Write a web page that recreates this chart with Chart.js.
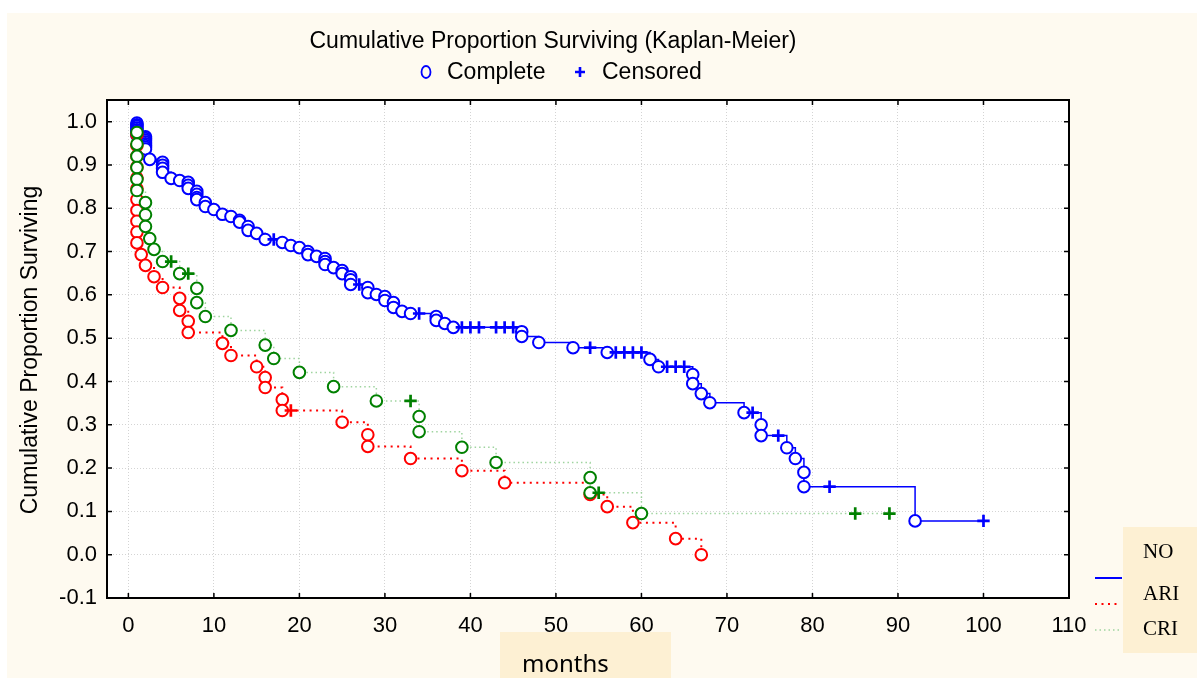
<!DOCTYPE html>
<html>
<head>
<meta charset="utf-8">
<title>Cumulative Proportion Surviving (Kaplan-Meier)</title>
<script src="https://cdn.jsdelivr.net/npm/chart.js@4.4.1/dist/chart.umd.min.js"></script>
<style>
  html, body { margin: 0; padding: 0; background: #ffffff; }
  canvas { display: block; }
</style>
</head>
<body>
<canvas id="kmChart" width="1197" height="678"></canvas>
<script>
// ---- Data (months, survival proportion) ----
const groupNames = ['NO', 'ARI', 'CRI'];

const noEventT = [1, 1, 1, 1, 1, 1, 1, 1, 2, 2, 2, 2, 2, 2, 2, 2, 2.5, 4, 4, 4, 4, 5, 6, 7, 7, 7,
  8, 8, 8, 8, 9, 9, 10, 11, 12, 13, 13, 14, 14, 15, 16, 18, 19, 20, 21, 21, 22, 23, 23, 23, 24,
  25, 25, 26, 26, 26, 28, 28, 29, 30, 30, 31, 31, 32, 33, 36, 36, 37, 38, 46, 46, 48, 52, 56,
  61, 62, 66, 66, 67, 68, 72, 74, 74, 77, 78, 79, 79, 92];
const noEventS = [0.997, 0.993, 0.989, 0.985, 0.981, 0.977, 0.973, 0.969, 0.965, 0.961, 0.957,
  0.953, 0.949, 0.945, 0.941, 0.937, 0.913, 0.906, 0.899, 0.892, 0.883, 0.869, 0.864, 0.860,
  0.853, 0.846, 0.839, 0.832, 0.825, 0.820, 0.813, 0.804, 0.797, 0.786, 0.781, 0.772, 0.768,
  0.758, 0.749, 0.742, 0.728, 0.721, 0.714, 0.709, 0.700, 0.693, 0.689, 0.684, 0.677, 0.670,
  0.663, 0.656, 0.649, 0.642, 0.635, 0.624, 0.617, 0.605, 0.601, 0.596, 0.587, 0.582, 0.571,
  0.562, 0.557, 0.550, 0.541, 0.534, 0.525, 0.515, 0.504, 0.490, 0.478, 0.467, 0.451, 0.434,
  0.416, 0.395, 0.372, 0.351, 0.328, 0.300, 0.275, 0.247, 0.222, 0.190, 0.157, 0.078];
const noCensT = [17, 27, 34, 39, 40, 41, 43, 44, 45, 54, 57, 58, 59, 60, 63, 64, 65, 73, 76, 82, 100];
const noCensS = [0.728, 0.624, 0.557, 0.525, 0.525, 0.525, 0.525, 0.525, 0.525, 0.478, 0.467,
  0.467, 0.467, 0.467, 0.434, 0.434, 0.434, 0.328, 0.275, 0.157, 0.078];

const ariEventT = [1, 1, 1, 1, 1, 1, 1, 1, 1, 1, 1, 1.5, 2, 3, 4, 6, 6, 7, 7, 11, 12, 15, 16, 16,
  18, 18, 25, 28, 28, 33, 39, 44, 54, 56, 59, 64, 67];
const ariEventS = [0.970, 0.945, 0.920, 0.895, 0.870, 0.845, 0.820, 0.795, 0.770, 0.745, 0.720,
  0.693, 0.668, 0.642, 0.617, 0.592, 0.564, 0.539, 0.513, 0.488, 0.460, 0.434, 0.409, 0.386,
  0.358, 0.333, 0.306, 0.277, 0.250, 0.222, 0.194, 0.166, 0.139, 0.111, 0.074, 0.037, 0.000];
const ariCensT = [19];
const ariCensS = [0.333];

const criEventT = [1, 1, 1, 1, 1, 1, 2, 2, 2, 2.5, 3, 4, 6, 8, 8, 9, 12, 16, 17, 20, 24, 29, 34,
  34, 39, 43, 54, 54, 60];
const criEventS = [0.975, 0.948, 0.920, 0.894, 0.867, 0.841, 0.813, 0.785, 0.758, 0.730, 0.705,
  0.677, 0.649, 0.615, 0.582, 0.550, 0.518, 0.484, 0.453, 0.421, 0.388, 0.355, 0.319, 0.284,
  0.248, 0.213, 0.178, 0.143, 0.095];
const criCensT = [5, 7, 33, 55, 85, 89];
const criCensS = [0.677, 0.649, 0.355, 0.143, 0.095, 0.095];

const xTicks = [0, 10, 20, 30, 40, 50, 60, 70, 80, 90, 100, 110];
const xTickLabels = ['0', '10', '20', '30', '40', '50', '60', '70', '80', '90', '100', '110'];
const yTicks = [-0.1, 0, 0.1, 0.2, 0.3, 0.4, 0.5, 0.6, 0.7, 0.8, 0.9, 1.0];
const yTickLabels = ['-0.1', '0.0', '0.1', '0.2', '0.3', '0.4', '0.5', '0.6', '0.7', '0.8', '0.9', '1.0'];


// ---- Build one step series per group (events = circles, censored = plus) ----
function kmPoints(eventT, eventS, censT, censS) {
  const pts = eventT.map((t, i) => ({ x: t, y: eventS[i], c: false }))
    .concat(censT.map((t, i) => ({ x: t, y: censS[i], c: true })));
  return pts.sort((a, b) => (a.x - b.x) || (b.y - a.y));
}

function kmDataset(label, points, lineColor, markColor, lineWidth, dash) {
  return {
    label: label,
    data: points,
    stepped: 'before',
    borderColor: lineColor,
    borderWidth: lineWidth,
    borderDash: dash,
    borderCapStyle: 'butt',
    fill: false,
    pointStyle: (c) => (c.raw && c.raw.c) ? 'cross' : 'circle',
    pointRadius: (c) => (c.raw && c.raw.c) ? 6.2 : 5.8,
    pointBorderWidth: (c) => (c.raw && c.raw.c) ? 2.7 : 2,
    pointBorderColor: markColor,
    pointBackgroundColor: '#ffffff',
    pointHoverRadius: 0
  };
}

const FONT = '"Liberation Sans", Arial, sans-serif';


// ---- Background, frame, inward ticks and the hand-placed texts ----
const decor = {
  id: 'decor',
  beforeDraw(chart) {
    const { ctx, chartArea: a, width, height } = chart;
    ctx.save();
    ctx.fillStyle = '#ffffff';
    ctx.fillRect(0, 0, width, height);
    ctx.fillStyle = '#fefaf0';
    ctx.fillRect(7, 13, width - 7, height - 13);
    ctx.fillStyle = '#fdf0d3';
    ctx.fillRect(500, 632, 171, 46);
    ctx.fillStyle = '#ffffff';
    ctx.fillRect(a.left, a.top, a.right - a.left, a.bottom - a.top);
    ctx.restore();
  },
  afterDraw(chart) {
    const { ctx, chartArea: a } = chart;
    const xs = chart.scales.x, ys = chart.scales.y;
    ctx.save();

    // frame
    ctx.strokeStyle = '#000000';
    ctx.lineWidth = 2;
    ctx.strokeRect(a.left, a.top, a.right - a.left, a.bottom - a.top);

    // inward tick marks
    ctx.lineWidth = 1.5;
    ctx.beginPath();
    xs.ticks.forEach(t => {
      const px = xs.getPixelForValue(t.value);
      ctx.moveTo(px, a.bottom); ctx.lineTo(px, a.bottom - 5);
      ctx.moveTo(px, a.top); ctx.lineTo(px, a.top + 5);
    });
    ys.ticks.forEach(t => {
      const py = ys.getPixelForValue(t.value);
      ctx.moveTo(a.left, py); ctx.lineTo(a.left + 5, py);
      ctx.moveTo(a.right, py); ctx.lineTo(a.right - 5, py);
    });
    ctx.stroke();

    // title + marker legend
    ctx.fillStyle = '#000000';
    ctx.textBaseline = 'middle';
    ctx.textAlign = 'center';
    ctx.font = '23px ' + FONT;
    ctx.fillText('Cumulative Proportion Surviving (Kaplan-Meier)', 553, 42);
    ctx.textAlign = 'left';
    ctx.fillText('Complete', 447, 73);
    ctx.fillText('Censored', 602, 73);
    ctx.strokeStyle = '#0000ff';
    ctx.lineWidth = 1.8;
    ctx.beginPath();
    ctx.ellipse(426, 72, 4.5, 6, 0, 0, Math.PI * 2);
    ctx.stroke();
    ctx.lineWidth = 2.6;
    ctx.beginPath();
    ctx.moveTo(575, 72); ctx.lineTo(585, 72);
    ctx.moveTo(580, 67); ctx.lineTo(580, 77);
    ctx.stroke();

    // y axis title
    ctx.save();
    ctx.translate(31, 350);
    ctx.rotate(-Math.PI / 2);
    ctx.textAlign = 'center';
    ctx.fillStyle = '#000000';
    ctx.fillText('Cumulative Proportion Surviving', 0, 0);
    ctx.restore();

    // x axis title
    ctx.font = '24px "Noto Sans", sans-serif';
    ctx.textAlign = 'left';
    ctx.textBaseline = 'alphabetic';
    ctx.fillText('months', 522, 672);

    // group legend (bottom right)
    ctx.fillStyle = '#fdf0d3';
    ctx.fillRect(1123, 527, 74, 126);
    ctx.fillStyle = '#000000';
    ctx.font = '21px "Liberation Serif", "Times New Roman", serif';
    ctx.textBaseline = 'middle';
    ctx.fillText(groupNames[0], 1143, 552);
    ctx.fillText(groupNames[1], 1143, 594);
    ctx.fillText(groupNames[2], 1143, 629);

    ctx.lineWidth = 2;
    ctx.strokeStyle = '#0000ff';
    ctx.beginPath(); ctx.moveTo(1095, 578); ctx.lineTo(1122, 578); ctx.stroke();
    ctx.strokeStyle = '#ff0000';
    ctx.setLineDash([2, 4.5]);
    ctx.beginPath(); ctx.moveTo(1095, 604); ctx.lineTo(1120, 604); ctx.stroke();
    ctx.strokeStyle = '#9fd49f';
    ctx.lineWidth = 1.5;
    ctx.setLineDash([1.5, 3]);
    ctx.beginPath(); ctx.moveTo(1095, 630); ctx.lineTo(1120, 630); ctx.stroke();

    ctx.restore();
  }
};


// ---- Chart ----
new Chart(document.getElementById('kmChart'), {
  type: 'line',
  data: {
    datasets: [
      kmDataset(groupNames[2], kmPoints(criEventT, criEventS, criCensT, criCensS), '#9fd49f', '#008000', 1.5, [1.5, 3]),
      kmDataset(groupNames[1], kmPoints(ariEventT, ariEventS, ariCensT, ariCensS), '#ff0000', '#ff0000', 2, [2, 4.5]),
      kmDataset(groupNames[0], kmPoints(noEventT, noEventS, noCensT, noCensS), '#0000ff', '#0000ff', 1.5, [])
    ]
  },
  options: {
    responsive: false,
    animation: false,
    devicePixelRatio: 1,
    layout: { padding: { left: 7, top: 100, right: 128, bottom: 0 } },
    plugins: {
      legend: { display: false },
      title: { display: false },
      tooltip: { enabled: false }
    },
    scales: {
      x: {
        type: 'linear',
        min: -2.5,
        max: 110,
        afterFit: (s) => { s.height = 80; },
        afterBuildTicks: (s) => { s.ticks = xTicks.map(v => ({ value: v })); },
        grid: { color: '#d4d4d4', lineWidth: 1, drawTicks: false },
        border: { display: false, dash: [1, 2] },
        ticks: {
          padding: 15,
          color: '#000000',
          font: { family: FONT, size: 22 },
          callback: (v, i) => xTickLabels[i]
        }
      },
      y: {
        type: 'linear',
        min: -0.1,
        max: 1.05,
        afterFit: (s) => { s.width = 100; },
        afterBuildTicks: (s) => { s.ticks = yTicks.map(v => ({ value: v })); },
        grid: { color: '#d4d4d4', lineWidth: 1, drawTicks: false },
        border: { display: false, dash: [1, 2] },
        ticks: {
          padding: 10,
          color: '#000000',
          font: { family: FONT, size: 22 },
          callback: (v, i) => yTickLabels[i]
        }
      }
    }
  },
  plugins: [decor]
});
</script>
</body>
</html>
